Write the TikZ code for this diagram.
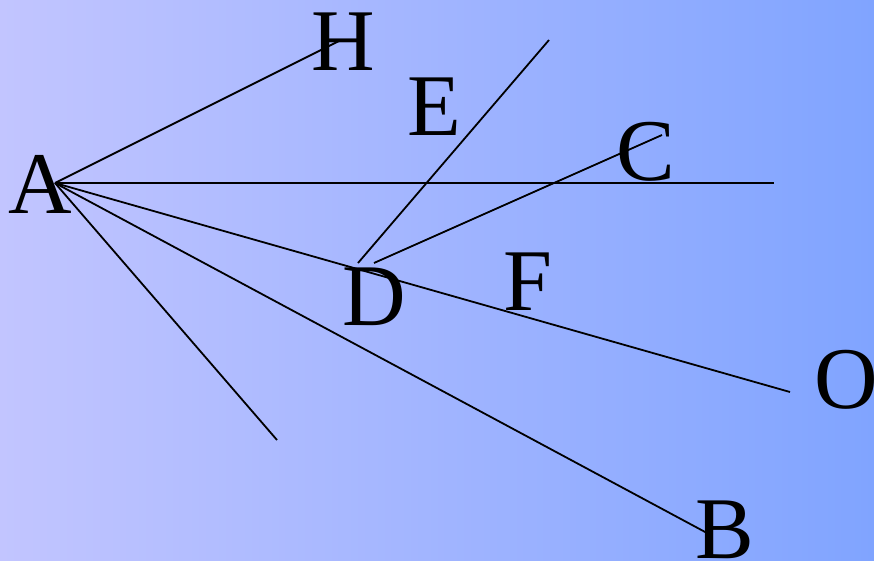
\documentclass[tikz,border=0pt]{standalone}
\usepackage{fontspec}
\setmainfont{Liberation Serif}
\begin{document}
\begin{tikzpicture}[x=1pt,y=-1pt,
  lbl/.style={inner sep=0pt,anchor=base,font=\fontsize{88}{88}\selectfont},
  seg/.style={line width=1.8pt,black}]
\shade[left color={rgb,255:red,194;green,197;blue,255},right color={rgb,255:red,128;green,164;blue,255}] (0,0) rectangle (874,560);
\useasboundingbox (0,0) rectangle (874,560);
% vertices
\coordinate (pA) at (55,183);
\coordinate (pH) at (341,40);
\coordinate (pR) at (774,183);
\coordinate (pO) at (790,392);
\coordinate (pL) at (277,440);
\coordinate (pB) at (707,533);
\coordinate (pD1) at (358,263);
\coordinate (pE) at (549,40);
\coordinate (pD2) at (374,263);
\coordinate (pC) at (662,135);
% lines
\draw[seg] (pA) -- (pH);
\draw[seg] (pA) -- (pR);
\draw[seg] (pA) -- (pO);
\draw[seg] (pA) -- (pL);
\draw[seg] (pA) -- (pB);
\draw[seg] (pD1) -- (pE);
\draw[seg] (pD2) -- (pC);
% labels
\node[lbl] (A) at (40,213) {A};
\node[lbl] (H) at (343,70) {H};
\node[lbl] (E) at (434,135) {E};
\node[lbl] (C) at (646,180) {C};
\node[lbl] (D) at (374,325) {D};
\node[lbl] (F) at (528,310) {F};
\node[lbl] (O) at (846,408) {O};
\node[lbl] (B) at (725,558) {B};
\end{tikzpicture}
\end{document}
